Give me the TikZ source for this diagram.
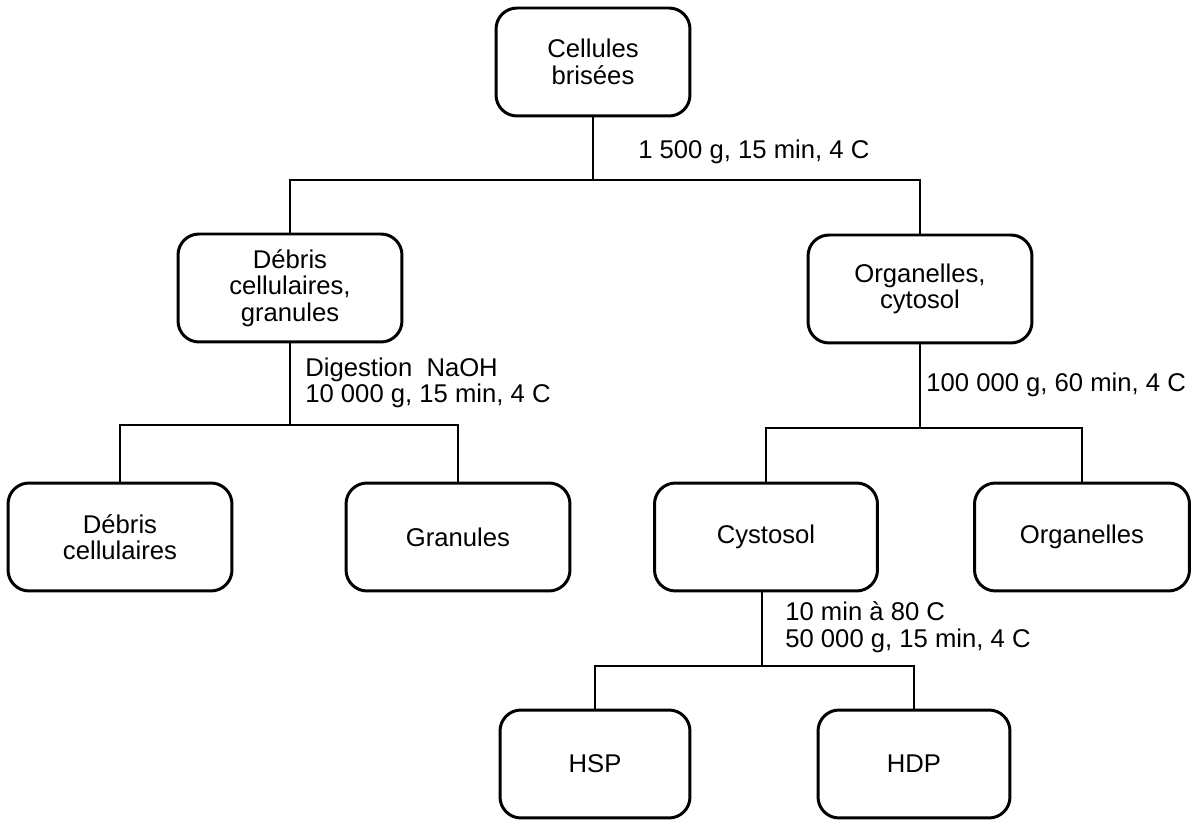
\documentclass[tikz,border=0pt]{standalone}
\usepackage{fontspec}
\setmainfont{Liberation Sans}
\usetikzlibrary{positioning}

\begin{document}
\begin{tikzpicture}[
x=0.02cm,y=-0.02cm,
box/.style={rectangle,rounded corners=0.42cm,draw=black,line width=1.7pt,
minimum width=4.48cm,minimum height=2.16cm,align=center,
font=\fontsize{14.6}{15.1}\selectfont},
link/.style={line width=0.9pt,draw=black},
cond/.style={anchor=west,align=left,inner sep=0pt,
font=\fontsize{14.6}{15.1}\selectfont}
]
\useasboundingbox (0,0) rectangle (1198,820);
% boxes
\node[box,minimum width=3.88cm] (cells) at (593,62) {Cellules\\brisées};
\node[box] (debgran) at (290,288) {Débris\\cellulaires,\\granules};
\node[box] (orgcyt) at (920,289) {Organelles,\\cytosol};
\node[box] (debris) at (120,537) {Débris\\cellulaires};
\node[box] (gran) at (458,537) {Granules};
\node[box,minimum width=4.46cm] (cyto) at (766,537) {Cystosol};
\node[box,minimum width=4.3cm] (org) at (1082,537) {Organelles};
\node[box,minimum width=3.8cm] (hsp) at (595,764) {HSP};
\node[box,minimum width=3.84cm] (hdp) at (914,764) {HDP};
% junctions
\coordinate (j1) at (593,180);
\coordinate (j2) at (290,425);
\coordinate (j3) at (920,428);
\coordinate (j4) at (762,666);
% connectors
\draw[link] (cells) -- (j1);
\draw[link] (debgran.north) |- (j1) -| (orgcyt.north);
\draw[link] (debgran) -- (j2);
\draw[link] (debris.north) |- (j2) -| (gran.north);
\draw[link] (orgcyt) -- (j3);
\draw[link] (cyto.north) |- (j3) -| (org.north);
\draw[link] (cyto.south -| j4) -- (j4);
\draw[link] (hsp.north) |- (j4) -| (hdp.north);
% conditions
\node[cond] (c1) at (638,152) {1 500 g, 15 min, 4 C};
\node[cond] (c2) at (305,383) {Digestion\ \ NaOH\\10 000 g, 15 min, 4 C};
\node[cond] (c3) at (926,385) {100 000 g, 60 min, 4 C};
\node[cond] (c4) at (785,627) {10 min à 80 C\\50 000 g, 15 min, 4 C};
\end{tikzpicture}
\end{document}
